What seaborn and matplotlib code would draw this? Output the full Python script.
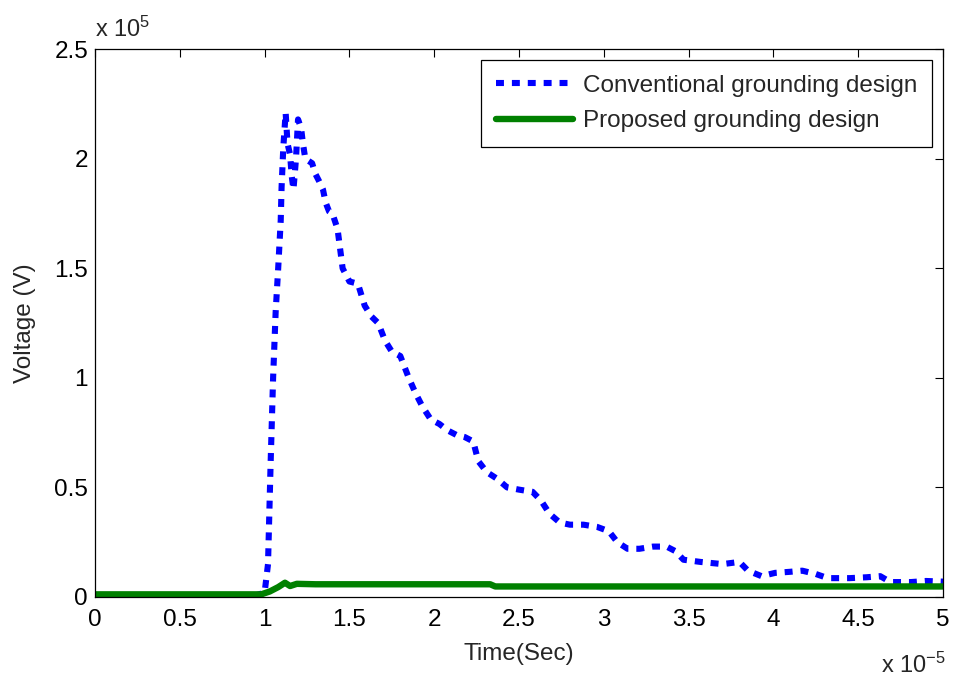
import numpy as np
import pandas as pd
import matplotlib
matplotlib.use("Agg")
import matplotlib.pyplot as plt
import seaborn as sns
from matplotlib.ticker import FuncFormatter, MultipleLocator

# time in units of 1e-5 s, voltage in units of 1e5 V
conv_time = [0.0, 0.5, 0.95, 1.00, 1.02, 1.035, 1.05, 1.065, 1.08, 1.095, 1.10,
             1.11, 1.124, 1.135, 1.15, 1.16, 1.17, 1.185, 1.197, 1.215, 1.226,
             1.24, 1.28, 1.30, 1.32, 1.344, 1.36, 1.38, 1.40, 1.43, 1.46, 1.50,
             1.55, 1.59, 1.63, 1.67, 1.71, 1.75, 1.80, 1.85, 1.89, 1.93, 1.98,
             2.03, 2.08, 2.13, 2.18, 2.23, 2.26, 2.31, 2.37, 2.43, 2.50, 2.58,
             2.63, 2.68, 2.74, 2.80, 2.88, 2.96, 3.03, 3.08, 3.14, 3.21, 3.29,
             3.37, 3.42, 3.47, 3.57, 3.70, 3.80, 3.85, 3.93, 4.01, 4.10, 4.17,
             4.25, 4.32, 4.45, 4.55, 4.63, 4.69, 4.81, 4.90, 5.00]
conv_volt = [0.008, 0.008, 0.008, 0.02, 0.15, 0.6, 1.0, 1.3, 1.5, 1.72, 1.87,
             2.05, 2.21, 2.07, 2.02, 1.92, 1.86, 2.00, 2.18, 2.14, 2.07,
             2.00, 1.98, 1.93, 1.90, 1.86, 1.80, 1.76, 1.75, 1.68, 1.50, 1.44,
             1.43, 1.33, 1.28, 1.25, 1.17, 1.12, 1.10, 1.00, 0.93, 0.87, 0.81,
             0.79, 0.76, 0.74, 0.73, 0.71, 0.62, 0.57, 0.54, 0.50, 0.49, 0.48,
             0.44, 0.38, 0.34, 0.33, 0.33, 0.32, 0.30, 0.25, 0.22, 0.22, 0.23,
             0.23, 0.21, 0.17, 0.16, 0.15, 0.16, 0.12, 0.095, 0.11, 0.115, 0.12,
             0.105, 0.086, 0.086, 0.09, 0.095, 0.068, 0.068, 0.073, 0.07]

prop_time = [0.0, 0.98, 1.03, 1.08, 1.12, 1.15, 1.19, 1.30, 2.33, 2.36, 5.0]
prop_volt = [0.012, 0.012, 0.025, 0.045, 0.065, 0.05, 0.06, 0.058, 0.058, 0.048, 0.048]

labels = ["Conventional grounding design", "Proposed grounding design"]
t_scale = 1e-5
v_scale = 1e5

conv = pd.DataFrame({"t": np.array(conv_time) * t_scale, "v": np.array(conv_volt) * v_scale})
prop = pd.DataFrame({"t": np.array(prop_time) * t_scale, "v": np.array(prop_volt) * v_scale})

sns.set_style("white")
plt.rcParams["font.family"] = ["Liberation Sans", "DejaVu Sans"]
plt.rcParams["mathtext.default"] = "regular"

fig = plt.figure(figsize=(9.56, 6.79), dpi=100)
ax = fig.add_axes([0.0994, 0.1208, 0.8870, 0.8066])

sns.lineplot(data=conv, x="t", y="v", ax=ax, color=(0, 0, 1), lw=4.4,
             linestyle=(0, (1.3, 1.3)), dash_capstyle="butt",
             sort=False, estimator=None, label=labels[0])
sns.lineplot(data=prop, x="t", y="v", ax=ax, color=(0, 0.5, 0), lw=4.6,
             sort=False, estimator=None, label=labels[1])

ax.set_xlim(0, 5e-5)
ax.set_ylim(0, 2.5e5)
ax.xaxis.set_major_locator(MultipleLocator(0.5e-5))
ax.yaxis.set_major_locator(MultipleLocator(0.5e5))
ax.xaxis.set_major_formatter(FuncFormatter(lambda v, p: f"{v / t_scale:g}"))
ax.yaxis.set_major_formatter(FuncFormatter(lambda v, p: f"{v / v_scale:g}"))

for s in ax.spines.values():
    s.set_color("black")
    s.set_linewidth(0.9)
ax.tick_params(direction="in", length=6, width=0.8, top=True, right=True,
               labelsize=17.5, colors="black")
ax.tick_params(axis="x", pad=9)
ax.tick_params(axis="y", pad=5)

ax.set_xlabel("Time(Sec)", fontsize=17.5, labelpad=8)
ax.set_ylabel("Voltage (V)", fontsize=17.5, labelpad=13)

ax.text(0.0, 1.022, r"x 10$^{5}$", transform=ax.transAxes, fontsize=17,
        ha="left", va="baseline")
ax.text(0.927, -0.139, r"x 10$^{-5}$", transform=ax.transAxes, fontsize=17,
        ha="left", va="baseline")

leg = ax.legend(loc="upper right", fontsize=17.5, frameon=True, fancybox=False,
                edgecolor="black", framealpha=1, handlelength=3.2,
                handletextpad=0.4, labelspacing=0.55, borderaxespad=0.45,
                borderpad=0.6)
leg.get_frame().set_linewidth(0.9)

fig.savefig("out.png", dpi=100)
